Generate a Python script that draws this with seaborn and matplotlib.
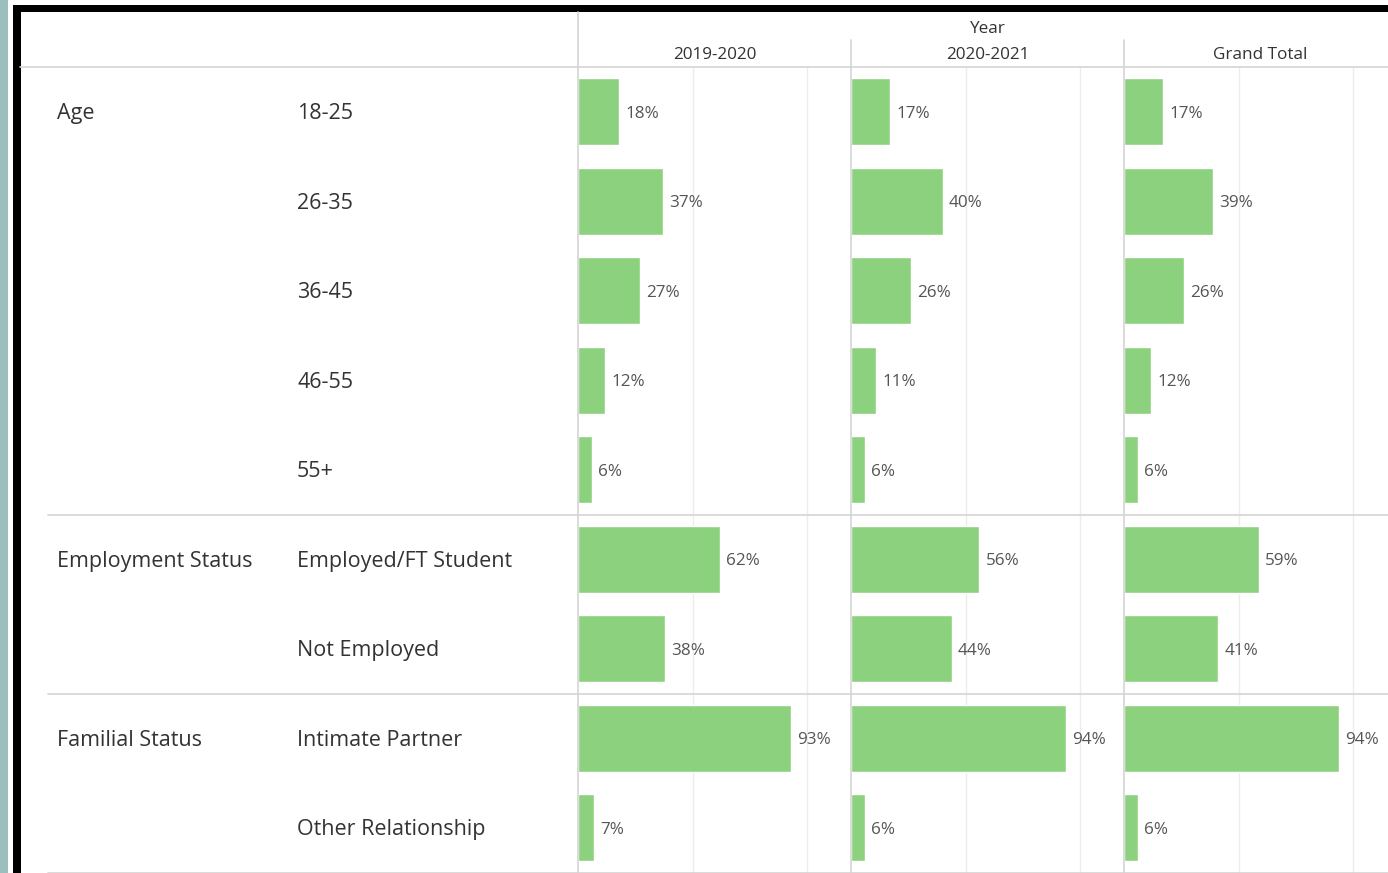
import matplotlib
matplotlib.use("Agg")
import matplotlib.pyplot as plt
from matplotlib.lines import Line2D
from matplotlib.patches import Rectangle
import pandas as pd
import seaborn as sns

# Survey breakdown: share of respondents per category, by year
groups = ["Age", "Age", "Age", "Age", "Age",
          "Employment Status", "Employment Status",
          "Familial Status", "Familial Status"]
categories = ["18-25", "26-35", "36-45", "46-55", "55+",
              "Employed/FT Student", "Not Employed",
              "Intimate Partner", "Other Relationship"]
years = ["2019-2020", "2020-2021", "Grand Total"]
pct_2019_2020 = [18, 37, 27, 12, 6, 62, 38, 93, 7]
pct_2020_2021 = [17, 40, 26, 11, 6, 56, 44, 94, 6]
pct_grand_total = [17, 39, 26, 12, 6, 59, 41, 94, 6]

series = [pct_2019_2020, pct_2020_2021, pct_grand_total]
df = pd.concat(
    [pd.DataFrame({"group": groups, "category": categories, "year": y, "pct": v})
     for y, v in zip(years, series)],
    ignore_index=True,
)

sns.set_theme(style="white")
plt.rcParams["font.family"] = ["Open Sans", "DejaVu Sans"]

W, H = 1388, 873
fig = plt.figure(figsize=(W / 100, H / 100), dpi=100)
fig.patch.set_facecolor("white")


def fx(x):
    return x / W


def fy(y):
    return 1 - y / H


BAR = "#8CD17D"
TXT = "#333333"
VAL = "#555555"
LINE = "#d4d4d4"

top_px, row_px = 67, 89.5
pane_left, pane_w = 578, 273
n = len(categories)
bottom_px = top_px + n * row_px
dy = 2  # small downward nudge for centred text

for i, year in enumerate(years):
    x0 = pane_left + i * pane_w
    ax = fig.add_axes([fx(x0), fy(bottom_px), pane_w / W, n * row_px / H])
    sub = df[df["year"] == year]
    sns.barplot(data=sub, x="pct", y="category", order=categories,
                color=BAR, saturation=1, width=0.75, orient="h", ax=ax,
                errorbar=None)
    ax.set_xlim(0, pane_w / 2.29)
    ax.set_ylim(n - 0.5, -0.5)
    ax.set_xticks([50, 100])
    ax.grid(axis="x", color="#ececec", linewidth=1)
    ax.set_axisbelow(True)
    ax.tick_params(left=False, bottom=False, labelleft=False, labelbottom=False)
    ax.set_xlabel("")
    ax.set_ylabel("")
    for s in ax.spines.values():
        s.set_visible(False)
    ax.patch.set_alpha(0)
    for cont in ax.containers:
        anns = ax.bar_label(cont, labels=[f"{v}%" for v in sub["pct"]],
                            padding=4.5, fontsize=12.3, color=VAL)
        for a in anns:
            a.xyann = (4.5, -dy * 0.72)
    fig.text(fx(x0 + pane_w / 2), fy(53 + dy), year, ha="center", va="center",
             fontsize=12.3, color=TXT)

fig.text(fx(pane_left + 1.5 * pane_w), fy(27 + dy), "Year", ha="center",
         va="center", fontsize=12.3, color=TXT)

# Row labels
for r, (g, c) in enumerate(zip(groups, categories)):
    yc = top_px + (r + 0.5) * row_px + dy
    if r == 0 or groups[r - 1] != g:
        fig.text(fx(57), fy(yc), g, ha="left", va="center", fontsize=15.5,
                 color=TXT)
    fig.text(fx(297), fy(yc), c, ha="left", va="center", fontsize=15.5,
             color=TXT)

# Table rules
fig.add_artist(Line2D([fx(20), 1], [fy(top_px)] * 2, color=LINE, lw=1.2))
boundaries = [r for r in range(1, n) if groups[r] != groups[r - 1]] + [n]
for r in boundaries:
    y = fy(top_px + r * row_px)
    fig.add_artist(Line2D([fx(48), 1], [y, y], color=LINE, lw=1.2))
fig.add_artist(Line2D([fx(pane_left)] * 2, [fy(12), 0], color=LINE, lw=1.2))
for i in (1, 2):
    xv = fx(pane_left + i * pane_w)
    fig.add_artist(Line2D([xv, xv], [fy(40), 0], color=LINE, lw=1.2))

# Frame around the sheet
fig.add_artist(Rectangle((0, 0), fx(8), 1, color="#9cbfbd", lw=0))
fig.add_artist(Rectangle((fx(13), 0), fx(21) - fx(13), fy(5), color="black", lw=0))
fig.add_artist(Rectangle((fx(13), fy(12)), 1, fy(5) - fy(12), color="black", lw=0))

fig.savefig("out.png", dpi=100, facecolor="white")
